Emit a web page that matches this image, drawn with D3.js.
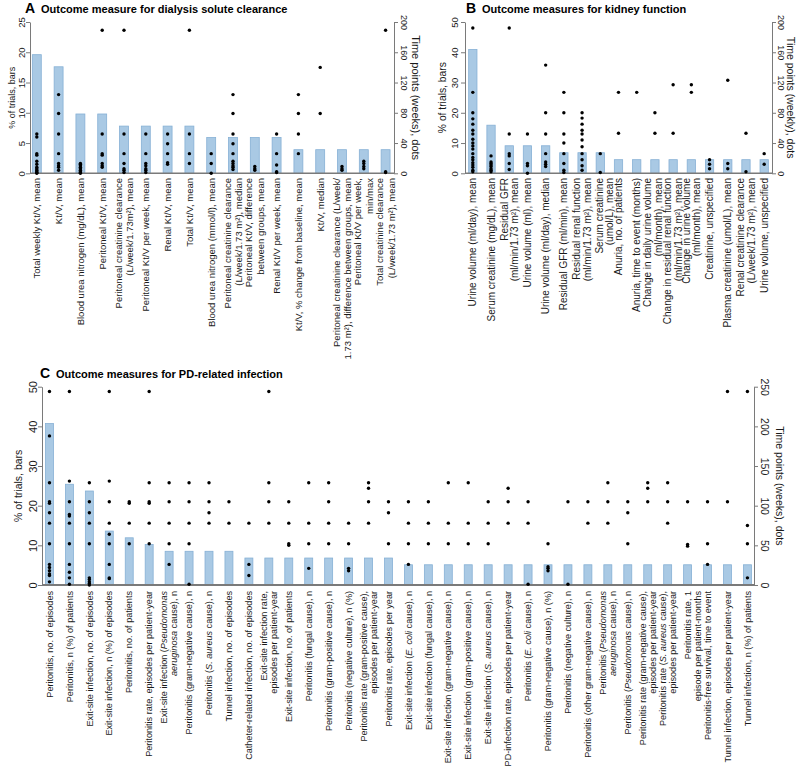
<!DOCTYPE html>
<html><head><meta charset="utf-8">
<script src="https://cdn.jsdelivr.net/npm/d3@7"></script>
<style>body{margin:0;background:#fff}svg{display:block;font-family:"Liberation Sans",Arial,sans-serif}</style>
</head><body>
<script>
// ---------- Panel A ----------
const catsA = [
"Total weekly Kt/V, mean",
"Kt/V, mean",
"Blood urea nitrogen (mg/dL), mean",
"Peritoneal Kt/V, mean",
"Peritoneal creatinine clearance\n(L/week/1.73m²), mean",
"Peritoneal Kt/V per week, mean",
"Renal Kt/V, mean",
"Total Kt/V, mean",
"Blood urea nitrogen (mmol/l), mean",
"Peritoneal creatinine clearance\n(L/week/1.73 m²), median",
"Peritoneal Kt/V, difference\nbetween groups, mean",
"Renal Kt/V per week, mean",
"Kt/V, % change from baseline, mean",
"Kt/V, median",
"Peritoneal creatinine clearance (L/week/\n1.73 m²), difference between groups, mean",
"Peritoneal Kt/V per week,\nmin/max",
"Total creatinine clearance\n(L/week/1.73 m²), mean"
];
const barsA = [19.6, 17.6, 9.8, 9.8, 7.8, 7.8, 7.8, 7.8, 5.9, 5.9, 5.9, 5.9, 3.9, 3.9, 3.9, 3.9, 3.9];
const dotsA = [
[52, 48, 26, 24, 16, 12, 8, 6, 4, 2, 1, 0],
[104, 79, 52, 26, 13, 10, 8, 4],
[13, 12, 10, 8, 6, 4, 2, 1, 0],
[189, 52, 26, 24, 13, 10, 8],
[189, 52, 26, 13, 6, 4, 1],
[52, 26, 13, 10, 6, 4, 1],
[52, 39, 26, 14, 12],
[189, 52, 26, 13],
[26, 13, 0],
[104, 79, 52, 39, 26, 16, 13, 10, 8, 5],
[9, 6, 4],
[52, 26, 11, 2, 1],
[104, 79, 52, 26],
[140, 79],
[9, 6, 4],
[16, 13, 9, 6],
[189, 2, 1]
];
const leftTicksA = [0, 5, 10, 15, 20, 25];
const rightTicksA = [0, 40, 80, 120, 160, 200];

// ---------- Panel B ----------
const catsB = [
"Urine volume (ml/day), mean",
"Serum creatinine (mg/dL), mean",
"Residual GFR\n(ml/min/1.73 m²), mean",
"Urine volume (ml), mean",
"Urine volume (ml/day), median",
"Residual GFR (ml/min), mean",
"Residual renal function\n(ml/min/1.73 m²), mean",
"Serum creatinine\n(umol/L), mean",
"Anuria, no. of patients",
"Anuria, time to event (months)",
"Change in daily urine volume\n(ml/month), mean",
"Change in residual renal function\n(ml/min/1.73 m²), mean",
"Change in urine volume\n(ml/month), mean",
"Creatinine, unspecified",
"Plasma creatinine (umol/L), mean",
"Renal creatinine clearance\n(L/week/1.73 m²), mean",
"Urine volume, unspecified"
];
const barsB = [40.9, 15.9, 9.1, 9.1, 9.1, 6.8, 6.8, 6.8, 4.5, 4.5, 4.5, 4.5, 4.5, 4.5, 4.5, 4.5, 4.5];
const dotsB = [
[192, 107, 80, 72, 65, 57, 52, 45, 40, 36, 32, 26, 21, 18, 14, 11, 8, 4, 2],
[23, 15, 13, 11, 9, 6, 4, 2],
[192, 52, 26, 23, 13, 5],
[52, 13, 10, 0],
[143, 80, 52, 26, 15, 12, 9],
[107, 80, 52, 40, 26, 13, 4, 1],
[80, 73, 65, 57, 52, 44, 35, 26, 18, 10, 4],
[26, 1],
[107, 53],
[107],
[80, 53],
[117, 53],
[117, 107],
[18, 12, 6],
[123, 13, 6],
[53, 2],
[26, 12]
];
const leftTicksB = [0, 10, 20, 30, 40, 50];
const rightTicksB = [0, 40, 80, 120, 160, 200];

// ---------- Panel C ----------
const catsC = [
"Peritonitis, no. of episodes",
"Peritonitis, n (%) of patients",
"Exit-site infection, no. of episodes",
"Exit-site infection, n (%) of episodes",
"Peritonitis, no. of patients",
"Peritonitis rate, episodes per patient-year",
"Exit-site infection (*Pseudomonas*\n*aeruginosa* cause), n",
"Peritonitis (gram-negative cause), n",
"Peritonitis (*S. aureus* cause), n",
"Tunnel infection, no. of episodes",
"Catheter-related infection, no. of episodes",
"Exit-site infection rate,\nepisodes per patient-year",
"Exit-site infection, no. of patients",
"Peritonitis (fungal cause), n",
"Peritonitis (gram-positive cause), n",
"Peritonitis (negative culture), n (%)",
"Peritonitis rate (gram-positive cause),\nepisodes per patient-year",
"Peritonitis rate, episodes per year",
"Exit-site infection (*E. coli* cause), n",
"Exit-site infection (fungal cause), n",
"Exit-site infection (gram-negative cause), n",
"Exit-site infection (gram-positive cause), n",
"Exit-site infection (*S. aureus* cause), n",
"PD-infection rate, episodes per patient-year",
"Peritonitis (*E. coli* cause), n",
"Peritonitis (gram-negative cause), n (%)",
"Peritonitis (negative culture), n",
"Peritonitis (other gram-negative cause), n",
"Peritonitis (*Pseudomonas*\n*aeruginosa* cause), n",
"Peritonitis (*Pseudomonas* cause), n",
"Peritonitis rate (gram-negative cause),\nepisodes per patient-year",
"Peritonitis rate (*S. aureus* cause),\nepisodes per patient-year",
"Peritonitis rate, 1\nepisode per patient-months",
"Peritonitis-free survival, time to event",
"Tunnel infection, episodes per patient-year",
"Tunnel infection, n (%) of patients"
];
const barsC = [40.7, 25.4, 23.7, 13.6, 11.9, 10.2, 8.5, 8.5, 8.5, 8.5,
6.8, 6.8, 6.8, 6.8, 6.8, 6.8, 6.8, 6.8,
5.1, 5.1, 5.1, 5.1, 5.1, 5.1, 5.1, 5.1, 5.1, 5.1, 5.1, 5.1, 5.1, 5.1, 5.1, 5.1, 5.1, 5.1];
const dotsC = [
[244, 188, 129, 105, 103, 91, 78, 52, 26, 22, 18, 14, 12, 4],
[244, 131, 105, 89, 87, 78, 52, 26, 16, 9, 1],
[129, 105, 91, 78, 52, 9, 7, 4, 2, 0],
[244, 131, 105, 78, 64, 52, 26, 9, 8],
[105, 103, 78, 52],
[244, 129, 105, 103, 78, 52],
[129, 105, 78, 52, 26],
[129, 105, 78, 52, 1],
[129, 105, 91, 78],
[105, 78],
[78, 26, 12],
[244, 129, 105, 78],
[105, 78, 52, 50],
[129, 78, 52, 21],
[129, 105, 78, 52],
[78, 52, 21, 18],
[129, 122, 105, 78],
[105, 91, 52],
[105, 78, 52, 26],
[105, 78, 52],
[129, 78, 52],
[129, 78, 52],
[105, 78, 52],
[122, 105, 78],
[105, 78, 1],
[52, 23, 21, 18],
[105, 1],
[105, 78],
[129, 105, 78],
[105, 91, 52],
[129, 122, 105],
[129, 105, 78],
[105, 51, 49],
[105, 52, 26],
[244, 105],
[244, 75, 52, 9]
];
const leftTicksC = [0, 10, 20, 30, 40, 50];
const rightTicksC = [0, 50, 100, 150, 200, 250];

const titles = [
  {letter: "A", text: "Outcome measure for dialysis solute clearance"},
  {letter: "B", text: "Outcome measures for kidney function"},
  {letter: "C", text: "Outcome measures for PD-related infection"}
];
const leftTitle = "% of trials, bars";
const rightTitles = ["Time points (weeks), dots", "Time points (weekly), dots", "Time points (weeks), dots"];

// ---------- drawing ----------
const svg = d3.select("body").append("svg").attr("width", 797).attr("height", 771);
const AX = "#7a7a7a", TXT = "#1a1a1a";

function panel(c) {
  const g = svg.append("g");
  const x = d3.scaleBand().domain(d3.range(c.cats.length)).range(c.xr).paddingInner(c.pi).paddingOuter(0.3);
  const yL = d3.scaleLinear().domain([0, c.lmax]).range([c.y0, c.y1]);
  const yR = d3.scaleLinear().domain([0, c.rmax]).range([c.y0, c.y1]);
  const cx = i => x(i) + x.bandwidth() / 2;

  g.selectAll("rect.bar").data(c.bars).join("rect").attr("class", "bar")
    .attr("x", (d, i) => x(i)).attr("width", x.bandwidth())
    .attr("y", d => yL(d)).attr("height", d => yL(0) - yL(d))
    .attr("fill", "#a9c9e4").attr("stroke", "#86b0d5").attr("stroke-width", 0.8);

  g.append("line").attr("x1", c.axL).attr("x2", c.axR).attr("y1", yL(0)).attr("y2", yL(0))
    .attr("stroke", AX).attr("stroke-width", c.baseW);

  const pts = [];
  c.dots.forEach((arr, i) => arr.forEach(w => pts.push({i, w})));
  g.selectAll("circle.dot").data(pts).join("circle").attr("class", "dot")
    .attr("cx", d => cx(d.i)).attr("cy", d => yR(d.w)).attr("r", 1.7).attr("fill", "#000");

  const la = g.append("g").attr("transform", `translate(${c.axL},0)`)
    .call(d3.axisLeft(yL).tickValues(c.lticks).tickSize(4).tickSizeOuter(0));
  la.select(".domain").attr("stroke", AX);
  la.selectAll(".tick line").attr("stroke", AX);
  la.selectAll(".tick text").attr("x", 0).attr("y", -c.ltOff).attr("dy", "0.35em")
    .attr("transform", "rotate(-90)").attr("text-anchor", "middle")
    .attr("font-size", c.ltFs).attr("font-family", "Liberation Sans, Arial, sans-serif").attr("fill", TXT);

  const ra = g.append("g").attr("transform", `translate(${c.axR},0)`)
    .call(d3.axisRight(yR).tickValues(c.rticks).tickSize(4).tickSizeOuter(0));
  ra.select(".domain").attr("stroke", AX);
  ra.selectAll(".tick line").attr("stroke", AX);
  ra.selectAll(".tick text").attr("x", 0).attr("y", -c.rtOff).attr("dy", "0.35em")
    .attr("transform", "rotate(90)").attr("text-anchor", "middle")
    .attr("font-size", c.rtFs).attr("font-family", "Liberation Sans, Arial, sans-serif").attr("fill", TXT);

  const ym = (c.y0 + c.y1) / 2;
  g.append("text").attr("transform", `translate(${c.ltitleX},${ym}) rotate(-90)`)
    .attr("text-anchor", "middle").attr("dy", "0.35em").attr("font-size", c.ltitleFs).attr("fill", TXT).text(leftTitle);
  g.append("text").attr("transform", `translate(${c.rtitleX},${ym}) rotate(90)`)
    .attr("text-anchor", "middle").attr("dy", "0.35em").attr("font-size", c.rtitleFs).attr("fill", TXT).text(c.rtitle);

  c.cats.forEach((lab, i) => {
    const lines = lab.split("\n"), n = lines.length;
    const shift = (c.nudge && c.nudge[i]) || 0;
    lines.forEach((ln, k) => {
      const t = g.append("text")
        .attr("transform", `translate(${cx(i) + shift},${c.labTop}) rotate(-90)`)
        .attr("text-anchor", "end").attr("x", 0)
        .attr("y", (k - (n - 1) / 2) * c.lh).attr("dy", "0.35em")
        .attr("font-size", c.lfs).attr("fill", TXT);
      ln.split("*").forEach((seg, j) => {
        if (seg) t.append("tspan").attr("font-style", j % 2 ? "italic" : null).text(seg);
      });
    });
  });

  const tt = svg.append("text").attr("x", c.titleX).attr("y", c.titleY).attr("font-weight", "bold").attr("fill", "#000");
  tt.append("tspan").attr("font-size", 14).text(c.title.letter);
  tt.append("tspan").attr("x", c.titleX + 16).attr("font-size", 11).text(c.title.text);
}

panel({cats: catsA, bars: barsA, dots: dotsA, xr: [25.8, 396.6], pi: 0.59,
  y0: 173.3, y1: 22, lmax: 25, rmax: 200, lticks: leftTicksA, rticks: rightTicksA,
  axL: 30, axR: 394, baseW: 1.5, ltOff: 8, ltFs: 9.5, rtOff: 10, rtFs: 9,
  ltitleX: 12, ltitleFs: 9, rtitleX: 416, rtitleFs: 11, rtitle: rightTitles[0],
  labTop: 178, lh: 11.5, lfs: 9.5, title: titles[0], titleX: 25, titleY: 13});

panel({cats: catsB, bars: barsB, dots: dotsB, xr: [463.2, 773.8], pi: 0.544,
  y0: 173.3, y1: 22, lmax: 50, rmax: 200, lticks: leftTicksB, rticks: rightTicksB,
  axL: 465, axR: 772, baseW: 1.5, ltOff: 10, ltFs: 9.5, rtOff: 9, rtFs: 9,
  ltitleX: 442, ltitleFs: 10.3, rtitleX: 791, rtitleFs: 10.5, rtitle: rightTitles[1],
  labTop: 178, lh: 10.4, lfs: 10, nudge: {7: 4, 10: -2}, title: titles[1], titleX: 466, titleY: 13});

panel({cats: catsC, bars: barsC, dots: dotsC, xr: [39.5, 757.4], pi: 0.6,
  y0: 585, y1: 386.7, lmax: 50, rmax: 250, lticks: leftTicksC, rticks: rightTicksC,
  axL: 42, axR: 754, baseW: 2, ltOff: 9, ltFs: 11, rtOff: 11, rtFs: 10.5,
  ltitleX: 18, ltitleFs: 10.5, rtitleX: 780, rtitleFs: 10.5, rtitle: rightTitles[2],
  labTop: 591, lh: 9.8, lfs: 9.1, nudge: {32: 5}, title: titles[2], titleX: 40, titleY: 378});
</script>
</body></html>
